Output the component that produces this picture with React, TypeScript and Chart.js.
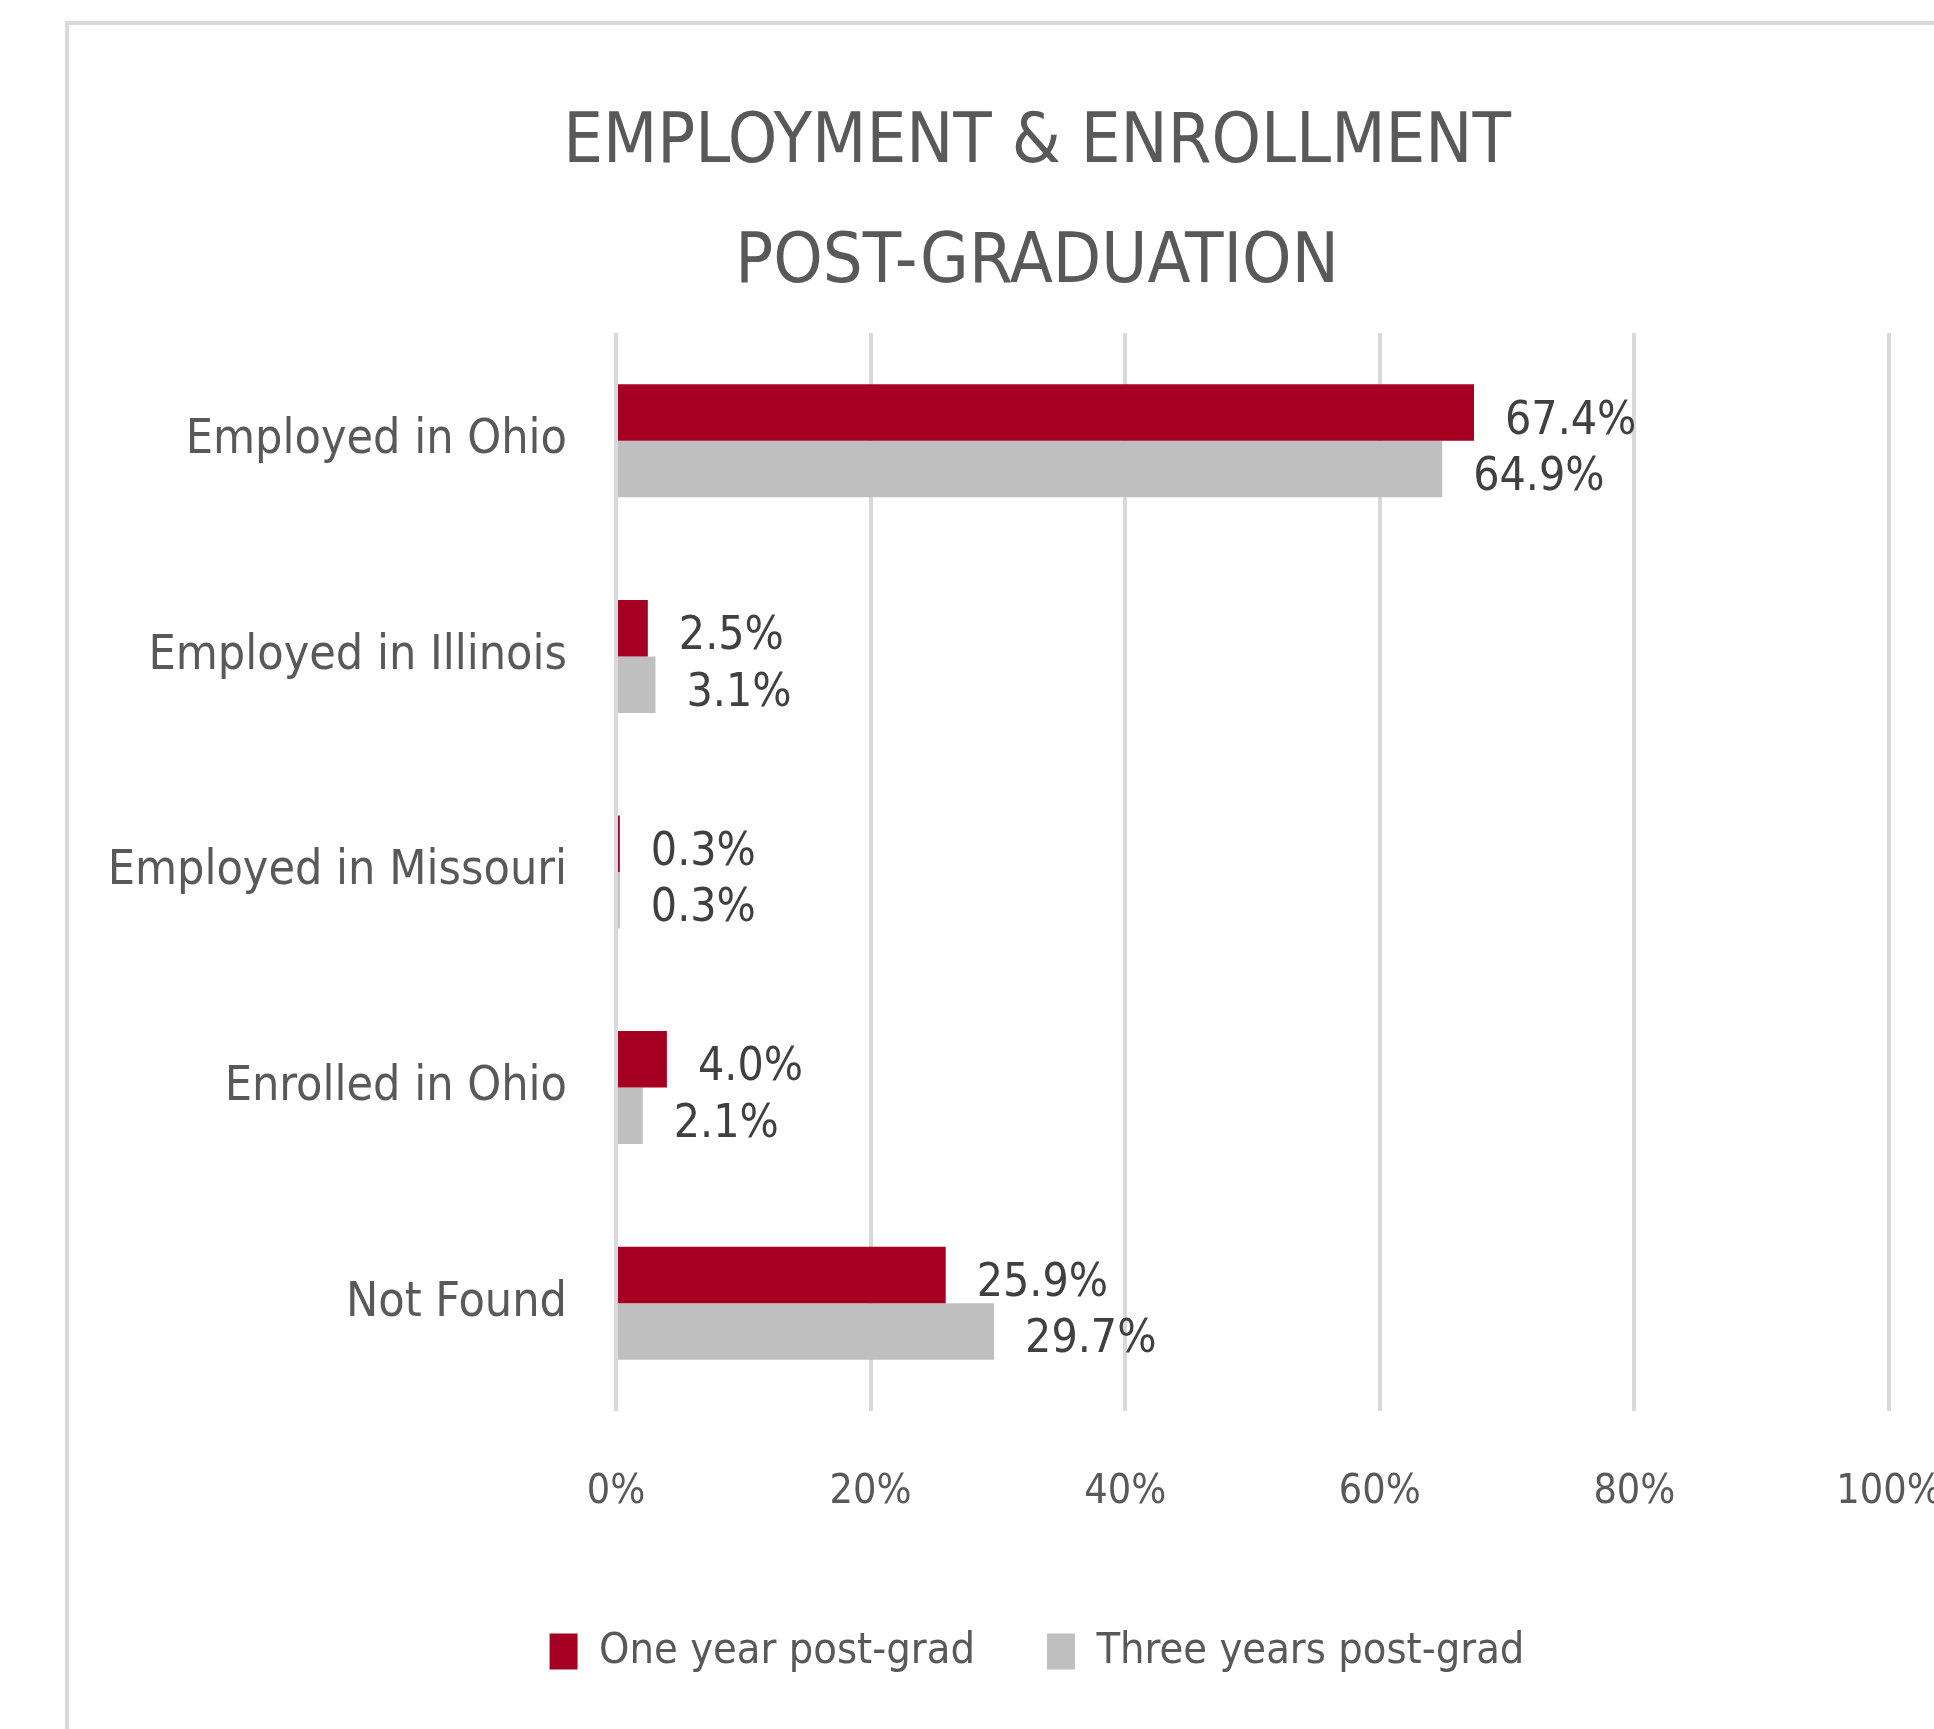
import React, { useEffect, useRef } from 'react';
import { Chart, registerables } from 'chart.js';

Chart.register(...registerables);

const categories = ['Employed in Ohio', 'Employed in Illinois', 'Employed in Missouri', 'Enrolled in Ohio', 'Not Found'];
const oneYear = [67.4, 2.5, 0.3, 4.0, 25.9];
const threeYears = [64.9, 3.1, 0.3, 2.1, 29.7];
const seriesNames = ['One year post-grad', 'Three years post-grad'];
const seriesColors = ['#A50021', '#BFBFBF'];
const xTicks = [0, 20, 40, 60, 80, 100];
const titleLines = ['EMPLOYMENT & ENROLLMENT', 'POST-GRADUATION'];

const FONT = "'Liberation Sans Narrow', 'DejaVu Sans Condensed', 'Liberation Sans', sans-serif";
const CANVAS_W = 1926;
const CANVAS_H = 1658;

const dataLabelPlugin = {
  id: 'dataLabels',
  afterDatasetsDraw(chart: any) {
    const ctx = chart.ctx;
    ctx.save();
    ctx.font = `46px ${FONT}`;
    ctx.fillStyle = '#404040';
    ctx.textBaseline = 'middle';
    ctx.textAlign = 'left';
    chart.data.datasets.forEach((ds: any, i: number) => {
      const meta = chart.getDatasetMeta(i);
      meta.data.forEach((bar: any, j: number) => {
        const v = ds.data[j] as number;
        ctx.fillText(v.toFixed(1) + '%', bar.x + 31, bar.y + 9);
      });
    });
    ctx.restore();
  },
};

export default function App() {
  const ref = useRef<HTMLCanvasElement | null>(null);

  useEffect(() => {
    if (!ref.current) return;
    const chart = new Chart(ref.current, {
      type: 'bar',
      data: {
        labels: categories,
        datasets: [
          {
            label: seriesNames[0],
            data: oneYear,
            backgroundColor: seriesColors[0],
            categoryPercentage: 0.524,
            barPercentage: 1,
          },
          {
            label: seriesNames[1],
            data: threeYears,
            backgroundColor: seriesColors[1],
            categoryPercentage: 0.524,
            barPercentage: 1,
          },
        ],
      },
      options: {
        indexAxis: 'y',
        responsive: false,
        animation: false,
        devicePixelRatio: 1,
        layout: { padding: { left: 10, right: 0, top: 0, bottom: 0 } },
        plugins: {
          title: {
            display: true,
            text: titleLines,
            color: '#595959',
            font: { family: FONT, size: 70, weight: 'normal', lineHeight: 120 / 70 },
            padding: { top: 59, bottom: 9 },
          },
          legend: {
            display: true,
            position: 'bottom',
            labels: {
              color: '#595959',
              font: { family: FONT, size: 43 },
              boxWidth: 28,
              boxHeight: 36,
              padding: 72,
            },
          },
          tooltip: { enabled: false },
        },
        scales: {
          x: {
            min: 0,
            max: 100,
            afterBuildTicks: (s: any) => {
              s.ticks = xTicks.map((v) => ({ value: v }));
            },
            afterFit: (s: any) => {
              s.height = 147;
            },
            grid: { color: '#D9D9D9', lineWidth: 4, drawTicks: true, tickLength: 50, tickColor: 'rgba(0,0,0,0)' },
            border: { display: false },
            ticks: {
              color: '#595959',
              font: { family: FONT, size: 41 },
              padding: 7,
              callback: (v: any) => v + '%',
            },
          },
          y: {
            afterFit: (s: any) => {
              s.width = 537;
            },
            grid: { display: false, drawTicks: false },
            border: { display: false },
            ticks: {
              color: '#595959',
              font: { family: FONT, size: 48 },
              padding: 49,
            },
          },
          yRight: {
            type: 'category',
            position: 'right',
            afterFit: (s: any) => {
              s.width = 106;
            },
            grid: { display: false, drawTicks: false },
            border: { display: false },
            ticks: { display: false },
          },
        },
      },
      plugins: [dataLabelPlugin],
    });
    return () => chart.destroy();
  }, []);

  return (
    <div style={{ position: 'absolute', left: 0, top: 0, width: 1934, height: 1729, overflow: 'hidden', background: '#fff' }}>
      <div
        style={{
          position: 'absolute',
          left: 65,
          top: 21,
          width: CANVAS_W,
          height: 1780,
          border: '4px solid #D9D9D9',
          background: '#fff',
        }}
      >
        <canvas ref={ref} width={CANVAS_W} height={CANVAS_H} style={{ display: 'block', width: CANVAS_W, height: CANVAS_H }} />
      </div>
    </div>
  );
}
